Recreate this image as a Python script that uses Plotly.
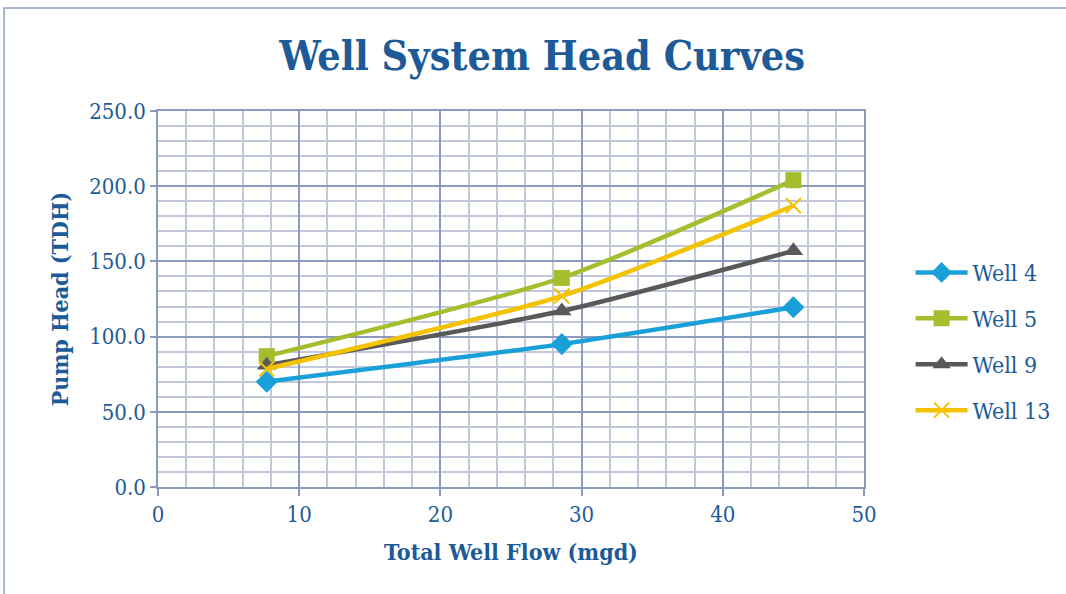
import plotly.graph_objects as go

# Total well flow (mgd) at the three operating points
flow = [7.7, 28.6, 45.0]

# Pump head (TDH) per well
well_4 = [70.0, 95.0, 119.5]
well_5 = [87.0, 139.0, 204.0]
well_9 = [81.0, 117.0, 157.0]
well_13 = [78.5, 127.0, 187.0]

series = [
    ("Well 4", well_4, "#1AA0D8", "diamond", 17),
    ("Well 5", well_5, "#A5BE2D", "square", 16),
    ("Well 9", well_9, "#595959", "triangle-up", 17),
    ("Well 13", well_13, "#F3C300", "x-thin", 15),
]

TXT = "#1C5B98"
FONT = "DejaVu Serif Condensed, DejaVu Serif"
MAJOR = "#8C9BBD"
MINOR = "#C3C9DB"

fig = go.Figure()
for name, vals, color, sym, size in series:
    marker = dict(symbol=sym, size=size, color=color)
    if sym == "x-thin":
        marker["line"] = dict(color=color, width=2)
    fig.add_trace(go.Scatter(
        x=flow, y=vals, name=name, legendgroup=name, mode="lines+markers",
        line=dict(color=color, width=4.5, shape="spline", smoothing=0.6),
        marker=marker,
    ))

fig.update_layout(
    width=1066, height=594,
    margin=dict(l=158, r=202, t=111, b=107, autoexpand=False),
    paper_bgcolor="white", plot_bgcolor="white",
    font=dict(family=FONT, color=TXT, size=18),
    title=dict(text="<b>Well System Head Curves</b>", x=0.544, xanchor="center",
               xref="paper", y=0.907, yanchor="middle",
               font=dict(family=FONT, size=41, color=TXT)),
    legend=dict(x=1.066, y=0.387, xanchor="left", yanchor="middle",
                font=dict(family=FONT, size=23, color=TXT),
                itemwidth=52, tracegroupgap=13, bgcolor="rgba(0,0,0,0)"),
    showlegend=True,
    shapes=[dict(type="rect", xref="paper", yref="paper",
                 x0=-0.218, x1=1.6, y0=-0.6, y1=1.274,
                 line=dict(color="#8EA3C8", width=1.5), layer="below")],
)

fig.update_xaxes(
    range=[0, 50], dtick=10, tick0=0,
    showgrid=True, gridcolor=MAJOR, gridwidth=1.5,
    minor=dict(dtick=2, showgrid=True, gridcolor=MINOR, gridwidth=1.5),
    showline=True, linecolor=MAJOR, linewidth=1.5, mirror=True,
    ticks="outside", ticklen=7, tickcolor=MAJOR, tickwidth=1.5,
    zeroline=False, tickfont=dict(size=22, color=TXT),
    title=dict(text="<b>Total Well Flow (mgd)</b>", font=dict(size=23, color=TXT),
               standoff=18),
)
fig.update_yaxes(
    range=[0, 250], dtick=50, tick0=0, tickformat=".1f",
    showgrid=True, gridcolor=MAJOR, gridwidth=1.5,
    minor=dict(dtick=10, showgrid=True, gridcolor=MINOR, gridwidth=1.5),
    showline=True, linecolor=MAJOR, linewidth=1.5, mirror=True,
    ticks="outside", ticklen=6, tickcolor=MAJOR, tickwidth=1.5,
    zeroline=False, tickfont=dict(size=22, color=TXT),
    title=dict(text="<b>Pump Head (TDH)</b>", font=dict(size=23, color=TXT),
               standoff=14),
)

fig.write_html("out.html")
